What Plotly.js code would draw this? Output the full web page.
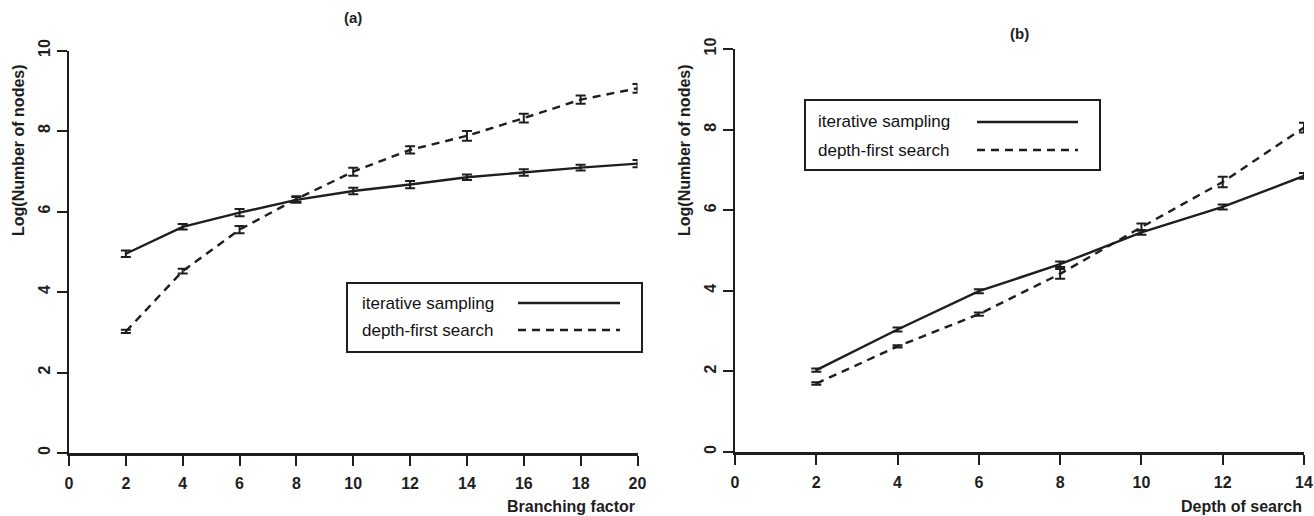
<!DOCTYPE html>
<html>
<head>
<meta charset="utf-8">
<script src="https://cdn.plot.ly/plotly-3.0.1.min.js"></script>
<style>html,body{margin:0;padding:0;background:#fff;}#chart{width:1314px;height:516px;}</style>
</head>
<body>
<div id="chart"></div>
<script>
// ---- data ----
const branching = [2, 4, 6, 8, 10, 12, 14, 16, 18, 20];
const iterA = [4.95, 5.62, 5.97, 6.29, 6.51, 6.67, 6.85, 6.97, 7.09, 7.19];
const iterAErr = [0.08, 0.07, 0.09, 0.07, 0.08, 0.09, 0.07, 0.08, 0.07, 0.09];
const dfsA = [3.02, 4.52, 5.55, 6.31, 6.99, 7.53, 7.88, 8.32, 8.78, 9.06];
const dfsAErr = [0.04, 0.06, 0.09, 0.07, 0.10, 0.09, 0.12, 0.11, 0.10, 0.11];

const depth = [2, 4, 6, 8, 10, 12, 14];
const iterB = [2.03, 3.04, 3.99, 4.66, 5.45, 6.08, 6.85];
const iterBErr = [0.04, 0.05, 0.05, 0.07, 0.06, 0.06, 0.07];
const dfsB = [1.70, 2.62, 3.42, 4.42, 5.58, 6.70, 8.05];
const dfsBErr = [0.03, 0.03, 0.04, 0.12, 0.09, 0.13, 0.12];

const xTicksA = [0, 2, 4, 6, 8, 10, 12, 14, 16, 18, 20];
const xTicksB = [0, 2, 4, 6, 8, 10, 12, 14];
const yTicks = [0, 2, 4, 6, 8, 10];

const seriesNames = ["iterative sampling", "depth-first search"];
const panelTitles = ["(a)", "(b)"];
const xTitles = ["Branching factor", "Depth of search"];
const yTitle = "Log(Number of nodes)";

// ---- styling ----
const W = 1314, H = 516;
const ink = "#1e1e1e";
const FONT = "Liberation Sans, Arial, sans-serif";
const DASH = "8px,6px";
const px = x => x / W;
const py = y => 1 - y / H;

function trace(x, y, err, dash, xa, ya) {
  return {
    x: x, y: y, type: "scatter", mode: "lines",
    xaxis: xa, yaxis: ya, showlegend: false,
    line: {color: ink, width: 2.4, dash: dash},
    error_y: {type: "data", array: err, visible: true, color: ink, thickness: 2, width: 5}
  };
}

const data = [
  trace(branching, iterA, iterAErr, "solid", "x", "y"),
  trace(branching, dfsA, dfsAErr, DASH, "x", "y"),
  trace(depth, iterB, iterBErr, "solid", "x2", "y2"),
  trace(depth, dfsB, dfsBErr, DASH, "x2", "y2")
];

function xAxis(domain, range, ticks, anchor) {
  return {
    domain: domain, range: range, anchor: anchor,
    tickmode: "array", tickvals: ticks, ticktext: ticks.map(String),
    showgrid: false, zeroline: false, showline: true, linecolor: ink, linewidth: 2.5,
    ticks: "outside", ticklen: 10, tickwidth: 2, tickcolor: ink,
    ticklabelstandoff: 4,
    tickfont: {family: FONT, size: 16, color: ink, weight: "bold"}
  };
}
function yAxis(domain, anchor) {
  return {
    domain: domain, range: [0, 10], anchor: anchor,
    tickmode: "array", tickvals: yTicks, ticktext: yTicks.map(String),
    tickangle: -90,
    showgrid: false, zeroline: false, showline: true, linecolor: ink, linewidth: 2.5,
    ticks: "outside", ticklen: 10, tickwidth: 2, tickcolor: ink,
    ticklabelstandoff: 0,
    tickfont: {family: FONT, size: 16, color: ink, weight: "bold"}
  };
}

// legend drawn as a box with text on the left, line sample on the right
function legendParts(box, textX, rowY, lineX0, lineX1) {
  const shapes = [
    {type: "rect", xref: "paper", yref: "paper", x0: px(box[0]), x1: px(box[1]), y0: py(box[2]), y1: py(box[3]),
     line: {color: ink, width: 2}, fillcolor: "rgba(0,0,0,0)"},
    {type: "line", xref: "paper", yref: "paper", x0: px(lineX0), x1: px(lineX1), y0: py(rowY[0]), y1: py(rowY[0]),
     line: {color: ink, width: 2.5}},
    {type: "line", xref: "paper", yref: "paper", x0: px(lineX0), x1: px(lineX1), y0: py(rowY[1]), y1: py(rowY[1]),
     line: {color: ink, width: 2.5, dash: DASH}}
  ];
  const anns = seriesNames.map((t, i) => ({
    text: t, xref: "paper", yref: "paper", x: px(textX), y: py(rowY[i]),
    xanchor: "left", yanchor: "middle", showarrow: false,
    font: {family: FONT, size: 17, color: "#111"}
  }));
  return {shapes, anns};
}

const legA = legendParts([347, 642, 283, 352], 360, [303, 330], 518, 620);
const legB = legendParts([805, 1100, 100, 170], 816, [122, 150], 977, 1078);

const textAnns = [
  {text: panelTitles[0], x: px(353), y: py(18)},
  {text: panelTitles[1], x: px(1019), y: py(33)},
].map(a => Object.assign(a, {xref: "paper", yref: "paper", xanchor: "center", yanchor: "middle",
  showarrow: false, font: {family: FONT, size: 15, color: ink, weight: "bold"}}));

const axisTitleAnns = [
  {text: xTitles[0], x: px(637), y: py(506), xanchor: "right", yanchor: "middle", textangle: 0},
  {text: xTitles[1], x: px(1304), y: py(506), xanchor: "right", yanchor: "middle", textangle: 0},
  {text: yTitle, x: px(18), y: py(150), xanchor: "center", yanchor: "middle", textangle: -90},
  {text: yTitle, x: px(684), y: py(150), xanchor: "center", yanchor: "middle", textangle: -90}
].map(a => Object.assign(a, {xref: "paper", yref: "paper", showarrow: false,
  font: {family: FONT, size: 16, color: ink, weight: "bold"}}));

const layout = {
  width: W, height: H,
  margin: {l: 0, r: 0, t: 0, b: 0},
  paper_bgcolor: "#fff", plot_bgcolor: "#fff",
  showlegend: false,
  xaxis: xAxis([px(69), px(637.5)], [0, 20], xTicksA, "y"),
  yaxis: yAxis([py(453), py(50.5)], "x"),
  xaxis2: xAxis([px(735), px(1304)], [0, 14], xTicksB, "y2"),
  yaxis2: yAxis([py(452), py(49)], "x2"),
  shapes: legA.shapes.concat(legB.shapes),
  annotations: legA.anns.concat(legB.anns, textAnns, axisTitleAnns)
};

Plotly.newPlot("chart", data, layout, {staticPlot: true, displayModeBar: false});
</script>
</body>
</html>
